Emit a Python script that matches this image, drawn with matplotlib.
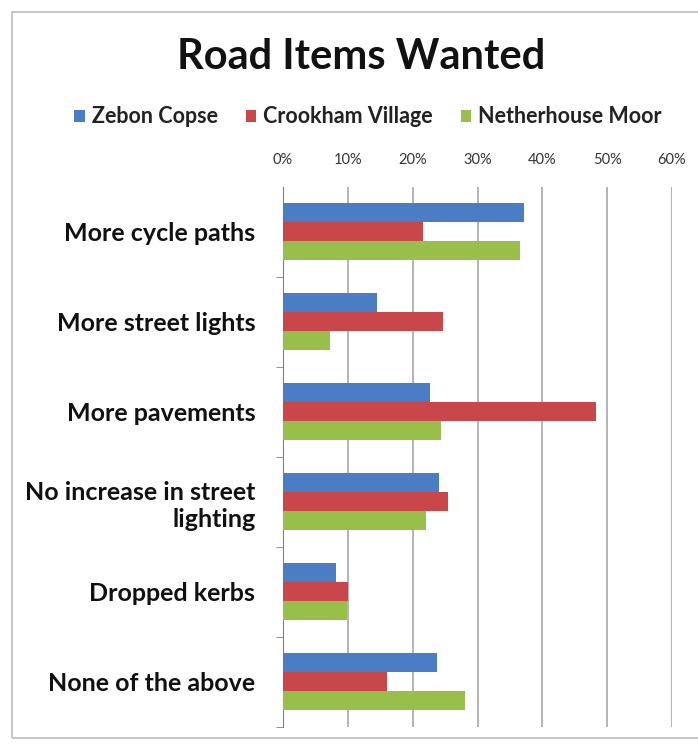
import matplotlib.pyplot as plt
import numpy as np
from matplotlib.patches import Rectangle
from matplotlib.ticker import FuncFormatter, MultipleLocator

plt.rcParams["font.family"] = ["Lato", "DejaVu Sans"]

categories = ["More cycle paths", "More street lights", "More pavements",
              "No increase in street\nlighting", "Dropped kerbs", "None of the above"]
series = ["Zebon Copse", "Crookham Village", "Netherhouse Moor"]
zebon = [37.1, 14.5, 22.6, 24.0, 8.1, 23.8]
crookham = [21.6, 24.7, 48.2, 25.4, 10.0, 16.1]
netherhouse = [36.6, 7.3, 24.3, 22.0, 9.8, 28.0]
colors = ["#4a7dc4", "#c9474a", "#98bf4a"]

fig = plt.figure(figsize=(6.98, 7.44), dpi=100)
ax = fig.add_axes([0.4055, 0.0233, 0.5573, 0.7257])

y = np.arange(len(categories))
h = 0.213
for j, (vals, name) in enumerate(zip([zebon, crookham, netherhouse], series)):
    ax.barh(y + (j - 1) * h, vals, h, color=colors[j], label=name, zorder=3)

ax.set_xlim(0, 60)
ax.set_ylim(len(categories) - 0.5, -0.5)
ax.xaxis.set_major_locator(MultipleLocator(10))
ax.xaxis.set_major_formatter(FuncFormatter(lambda v, p: f"{v:.0f}%"))
ax.xaxis.tick_top()
ax.tick_params(axis="x", length=0, pad=14, labelsize=10.5, labelcolor="#333333")
ax.grid(axis="x", color="#a8a8a8", lw=1.2, zorder=0)

ax.set_yticks(y)
ax.set_yticklabels(categories, fontsize=18, fontweight="bold", color="#111111",
                   linespacing=1.25)
ax.tick_params(axis="y", length=0, pad=20)
ax.set_yticks(np.arange(len(categories)) + 0.5, minor=True)
ax.tick_params(axis="y", which="minor", length=5, color="#808080")

for s in ["top", "right", "bottom"]:
    ax.spines[s].set_visible(False)
ax.spines["left"].set_color("#808080")

fig.text(0.517, 0.923, "Road Items Wanted", ha="center", va="center",
         fontsize=30, fontweight="bold", color="#111111")
fig.legend(loc="center", bbox_to_anchor=(0.527, 0.843), ncol=3, frameon=False,
           prop={"size": 15.5, "weight": "bold"}, handlelength=0.5, handleheight=0.5,
           handletextpad=0.3, columnspacing=1.3, labelcolor="#222222")

fig.add_artist(Rectangle((12 / 698, 6 / 744), 1.0, 1 - 18 / 744, transform=fig.transFigure,
                         fill=False, edgecolor="#c8c8c8", lw=1.5))

fig.savefig("out.png", dpi=100)
